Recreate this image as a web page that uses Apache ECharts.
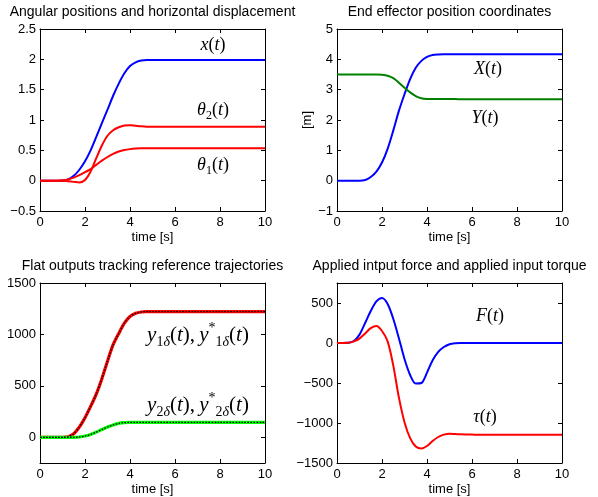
<!DOCTYPE html>
<html>
<head>
<meta charset="utf-8">
<script src="https://cdn.jsdelivr.net/npm/echarts@6/dist/echarts.min.js"></script>
<style>
  html, body { margin: 0; padding: 0; background: #fff; }
  #main { width: 598px; height: 497px; }
</style>
</head>
<body>
<div id="main"></div>
<script>
// time samples [s]
const t = [0, 0.25, 0.5, 0.75, 1, 1.25, 1.5, 1.75, 2, 2.25, 2.5, 2.75, 3, 3.25, 3.5, 3.75,
  4, 4.25, 4.5, 4.75, 5, 5.25, 5.5, 6, 7, 8, 9, 10];

// top left: angular positions and horizontal displacement
const xCart = [0, 0, 0, 0, 0, 0.02, 0.08, 0.18, 0.32, 0.5, 0.72, 0.95, 1.17, 1.4, 1.6, 1.77,
  1.89, 1.95, 1.98, 1.99, 1.99, 1.99, 1.99, 1.99, 1.99, 1.99, 1.99, 1.99];
const theta2 = [0, 0, 0, 0, 0, -0.01, -0.02, -0.03, 0.01, 0.15, 0.37, 0.58, 0.74, 0.83, 0.88, 0.91,
  0.915, 0.905, 0.895, 0.89, 0.89, 0.89, 0.89, 0.89, 0.89, 0.89, 0.89, 0.89];
const theta1 = [0, 0, 0, 0, 0.005, 0.02, 0.05, 0.09, 0.14, 0.19, 0.26, 0.33, 0.39, 0.44, 0.48, 0.505,
  0.52, 0.53, 0.535, 0.535, 0.535, 0.535, 0.535, 0.535, 0.535, 0.535, 0.535, 0.535];

// top right: end effector coordinates [m]
const effX = [0, 0, 0, 0, 0, 0.02, 0.12, 0.3, 0.6, 1.05, 1.65, 2.3, 2.85, 3.35, 3.72, 3.95,
  4.08, 4.14, 4.16, 4.17, 4.17, 4.17, 4.17, 4.17, 4.17, 4.17, 4.17, 4.17];
const effY = [3.5, 3.5, 3.5, 3.5, 3.5, 3.5, 3.5, 3.5, 3.49, 3.46, 3.38, 3.23, 3.06, 2.91, 2.79, 2.72,
  2.695, 2.69, 2.69, 2.69, 2.69, 2.69, 2.685, 2.68, 2.68, 2.68, 2.68, 2.68];

// bottom left: flat outputs (actual and reference overlap)
const y1 = [0, 0, 0, 0, 0, 5, 35, 100, 190, 300, 420, 570, 740, 900, 1010, 1110,
  1175, 1205, 1218, 1222, 1222, 1222, 1222, 1222, 1222, 1222, 1222, 1222];
const y2 = [0, 0, 0, 0, 0, 0, 0, 3, 12, 28, 50, 75, 100, 120, 135, 142,
  145, 145, 145, 145, 145, 145, 145, 145, 145, 145, 145, 145];

// bottom right: input force and torque
const force = [0, 0, 2, 25, 105, 250, 400, 520, 563, 488, 303, 60, -200, -400, -507, -500,
  -370, -215, -110, -50, -15, -3, 0, 0, 0, 0, 0, 0];
const torque = [0, 0, 2, 20, 55, 120, 185, 213, 150, 20, -280, -680, -990, -1190, -1295, -1320,
  -1288, -1225, -1175, -1145, -1135, -1138, -1142, -1145, -1148, -1148, -1148, -1148];

const flatTicks = [0, 500, 1000, 1500];

const titles = [
  'Angular positions and horizontal displacement',
  'End effector position coordinates',
  'Flat outputs tracking reference trajectories',
  'Applied intput force and applied input torque'
];

var chart = echarts.init(document.getElementById('main'));

const boxes = [
  { left: 40, top: 29, width: 225, height: 182 },
  { left: 337, top: 29, width: 225, height: 182 },
  { left: 40, top: 283, width: 225, height: 182 },
  { left: 337, top: 283, width: 225, height: 181 }
];

const yRanges = [
  { min: -0.5, max: 2.5, interval: 0.5 },
  { min: -1, max: 5, interval: 1 },
  { min: -250, max: 1500, custom: flatTicks },
  { min: -1500, max: 750, interval: 500 }
];

const sans = 'Liberation Sans, Arial, sans-serif';
const minus = v => String(v).replace('-', '\u2212');

const axisLine = { show: true, onZero: false, lineStyle: { color: '#000', width: 1 } };
const tick = { show: true, inside: true, length: 4, lineStyle: { color: '#000' } };

let xAxis = [], yAxis = [];
boxes.forEach((b, g) => {
  ['bottom', 'top'].forEach(pos => {
    xAxis.push({
      type: 'value', gridIndex: g, position: pos, min: 0, max: 10, interval: 2,
      axisLine, axisTick: tick, splitLine: { show: false },
      axisLabel: { show: pos === 'bottom', color: '#000', fontFamily: sans, fontSize: 13, margin: 5 },
      name: pos === 'bottom' ? 'time [s]' : '',
      nameLocation: 'middle', nameGap: 20,
      nameTextStyle: { color: '#000', fontFamily: sans, fontSize: 13 }
    });
  });
  const r = yRanges[g];
  ['left', 'right'].forEach(pos => {
    const ax = {
      type: 'value', gridIndex: g, position: pos, min: r.min, max: r.max,
      axisLine, axisTick: Object.assign({}, tick), splitLine: { show: false },
      axisLabel: {
        show: pos === 'left', color: '#000', fontFamily: sans, fontSize: 13, margin: 4,
        formatter: minus, showMaxLabel: g !== 3
      }
    };
    if (r.interval) ax.interval = r.interval;
    if (r.custom) {
      ax.axisLabel.customValues = r.custom;
      ax.axisTick.customValues = r.custom;
    }
    if (g === 1 && pos === 'left') {
      ax.name = '[m]';
      ax.nameLocation = 'middle';
      ax.nameGap = 21;
      ax.nameTextStyle = { color: '#000', fontFamily: sans, fontSize: 13 };
    }
    yAxis.push(ax);
  });
});

function line(g, values, color, width, dotted) {
  return {
    type: 'line', xAxisIndex: 2 * g, yAxisIndex: 2 * g,
    data: t.map((x, i) => [x, values[i]]),
    smooth: 0.3, showSymbol: false, symbol: 'none', animation: false,
    lineStyle: { color, width, type: dotted ? [1.5, 1.5] : 'solid' },
    z: dotted ? 5 : 2
  };
}

// math-style annotations
const mathRich = {
  i: { fontFamily: 'Liberation Serif', fontStyle: 'italic', fontSize: 18, color: '#000', verticalAlign: 'middle', lineHeight: 24 },
  r: { fontFamily: 'Liberation Serif', fontSize: 18, color: '#000', verticalAlign: 'middle', lineHeight: 24 },
  s: { fontFamily: 'Liberation Serif', fontSize: 12, color: '#000', verticalAlign: 'bottom' },
  si: { fontFamily: 'Liberation Serif', fontStyle: 'italic', fontSize: 12, color: '#000', verticalAlign: 'bottom' },
  p: { fontFamily: 'Liberation Serif', fontSize: 12, color: '#000', verticalAlign: 'top' }
};
const bigRich = {
  i: Object.assign({}, mathRich.i, { fontSize: 21, lineHeight: 28 }),
  r: Object.assign({}, mathRich.r, { fontSize: 21, lineHeight: 28 }),
  s: Object.assign({}, mathRich.s, { fontSize: 14 }),
  si: Object.assign({}, mathRich.si, { fontSize: 14 }),
  p: Object.assign({}, mathRich.p, { fontSize: 14 })
};

function label(x, y, text, rich) {
  return {
    type: 'text', x, y, z: 20,
    style: { text, rich: rich || mathRich, align: 'center', verticalAlign: 'middle' }
  };
}

const graphic = titles.map((s, g) => ({
  type: 'text', x: boxes[g].left + boxes[g].width / 2, y: g < 2 ? 12 : 266,
  style: { text: s, font: '14px ' + sans, fill: '#000', align: 'center', verticalAlign: 'middle' }
})).concat([
  label(213, 45, '{i|x}{r|(}{i|t}{r|)}'),
  label(213, 110, '{i|θ}{s|2}{r|(}{i|t}{r|)}'),
  label(213, 165, '{i|θ}{s|1}{r|(}{i|t}{r|)}'),
  label(488, 69, '{i|X}{r|(}{i|t}{r|)}'),
  label(485, 118, '{i|Y}{r|(}{i|t}{r|)}'),
  label(198, 335, '{i|y}{s|1}{si|δ}{r|(}{i|t}{r|),\u2009}{i|y}{p|*}{s|1}{si|δ}{r|(}{i|t}{r|)}', bigRich),
  label(198, 405, '{i|y}{s|2}{si|δ}{r|(}{i|t}{r|),\u2009}{i|y}{p|*}{s|2}{si|δ}{r|(}{i|t}{r|)}', bigRich),
  label(490, 316, '{i|F}{r|(}{i|t}{r|)}'),
  label(485, 417, '{i|τ}{r|(}{i|t}{r|)}')
]);

var option = {
  backgroundColor: '#fff',
  animation: false,
  grid: boxes.map(b => Object.assign({ containLabel: false }, b)),
  xAxis,
  yAxis,
  series: [
    line(0, xCart, '#0000ff', 2),
    line(0, theta2, '#ff0000', 2),
    line(0, theta1, '#ff0000', 2),
    line(1, effX, '#0000ff', 2),
    line(1, effY, '#008000', 2),
    line(2, y1, '#ff0000', 3.2),
    line(2, y1, '#000000', 1.3, true),
    line(2, y2, '#00ff00', 3.2),
    line(2, y2, '#000000', 1.3, true),
    line(3, force, '#0000ff', 2),
    line(3, torque, '#ff0000', 2)
  ],
  graphic
};

chart.setOption(option);
</script>
</body>
</html>
